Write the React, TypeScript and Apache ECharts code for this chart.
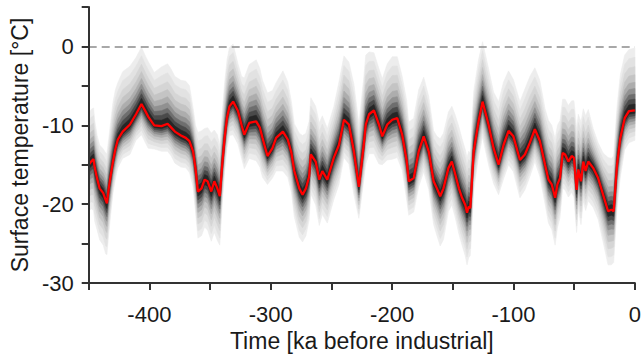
import React, { useEffect, useRef } from "react";
import * as echarts from "echarts";

// Time (ka before industrial) of each read point of the median reconstruction
const times = [
  -450, -448, -446, -445, -443, -441, -438, -436, -435, -433.5,
  -432, -430, -428, -426, -422, -416, -411, -406.5, -403, -401,
  -396, -390, -385, -382, -379, -374, -370, -367, -364, -362,
  -360, -357, -354.5, -352, -349, -346.5, -344, -342, -340, -338,
  -336, -334, -331, -327, -324, -321.8, -317.7, -312, -309, -306.8,
  -302.7, -298.6, -295.6, -290, -286, -283, -280.6, -276.5, -273.8, -271,
  -268.4, -267, -263, -260, -257.5, -253.4, -248, -243.8, -239.7, -235.6,
  -231.5, -227.4, -223.4, -221.7, -219, -215, -210.9, -208.1, -204, -199.9,
  -195.8, -191.7, -188, -186.3, -182.2, -178.1, -174, -169.9, -165.8, -163.1,
  -160.4, -157.7, -153.6, -150.8, -148, -145, -142.4, -139.7, -138.3, -136.9,
  -135.6, -132.8, -128.8, -125.5, -120.6, -116.4, -112.3, -108.2, -104.1, -100.1,
  -94.7, -90.6, -86.5, -82.4, -78.3, -74, -71.2, -68.5, -65.7, -63.8,
  -61.7, -59.5, -57.5, -54.8, -52.1, -50.2, -48, -46.6, -44.4, -42.5,
  -40.6, -38.4, -34.4, -30.3, -26.2, -22.1, -19.4, -17.5, -14.7, -12,
  -8.4, -4.9, 0,
];

// Median surface temperature (°C), red line
const medianTemp = [
  -15.0, -14.6, -14.3, -15.4, -16.8, -18.0, -18.6, -19.5, -19.9, -18.0,
  -16.5, -14.6, -13.0, -11.8, -10.8, -9.9, -8.6, -7.3, -8.3, -8.9,
  -10.0, -10.1, -9.8, -10.3, -10.8, -11.3, -11.6, -12.0, -13.3, -15.5,
  -18.4, -18.0, -16.9, -17.1, -18.4, -17.1, -18.0, -19.0, -15.0, -11.6,
  -9.0, -7.6, -7.0, -8.2, -10.0, -11.2, -9.7, -9.5, -10.3, -11.6,
  -13.9, -12.9, -11.6, -10.8, -11.8, -13.5, -15.8, -18.0, -18.8, -18.0,
  -16.5, -13.7, -14.6, -16.9, -15.8, -16.9, -14.1, -12.5, -9.3, -9.9,
  -13.3, -17.8, -12.5, -9.9, -8.6, -8.1, -9.9, -11.4, -9.9, -9.3,
  -9.1, -11.2, -14.5, -17.1, -16.7, -13.3, -11.4, -13.3, -17.1, -18.0,
  -19.0, -18.0, -15.4, -14.6, -16.2, -18.0, -19.2, -20.1, -21.1, -20.3,
  -20.5, -13.3, -9.5, -7.0, -9.9, -12.9, -15.0, -12.5, -10.7, -11.4,
  -14.4, -13.7, -12.2, -10.5, -12.0, -15.0, -16.9, -17.5, -19.2, -17.5,
  -16.7, -13.5, -13.7, -14.6, -13.9, -14.1, -18.2, -15.6, -17.1, -14.6,
  -15.8, -14.6, -15.4, -16.7, -18.8, -20.9, -20.7, -20.9, -15.0, -11.6,
  -9.1, -8.2, -8.1,
];

// Distance (°C) from the median up to the outer (lightest) edge of the grey envelope
const upperSpread = [
  6.4, 6.6, 6.5, 6.0, 5.5, 5.5, 5.6, 6.0, 6.3, 6.3,
  6.8, 7.5, 7.5, 7.2, 7.6, 7.4, 7.2, 7.2, 7.0, 7.0,
  6.7, 7.5, 7.6, 7.4, 7.0, 7.0, 7.2, 7.0, 5.5, 5.5,
  7.5, 7.3, 6.5, 6.8, 7.4, 6.5, 6.8, 6.5, 6.5, 7.0,
  7.3, 7.5, 7.3, 6.0, 6.2, 7.2, 7.4, 7.8, 7.5, 7.3,
  8.0, 7.3, 7.0, 7.7, 7.3, 6.5, 6.0, 7.0, 7.5, 7.0,
  7.0, 7.2, 7.0, 7.2, 7.0, 6.5, 6.5, 8.0, 8.1, 7.9,
  8.5, 8.0, 8.5, 8.8, 7.9, 7.3, 7.1, 7.3, 7.7, 8.0,
  7.8, 7.4, 7.6, 7.5, 7.6, 7.8, 7.5, 7.0, 6.4, 6.6,
  7.3, 7.0, 7.1, 7.0, 7.5, 7.8, 7.5, 7.0, 7.0, 7.0,
  7.0, 7.6, 7.8, 7.6, 7.1, 7.1, 8.0, 8.0, 7.6, 7.2,
  7.4, 8.3, 8.4, 7.8, 7.7, 7.1, 7.5, 7.5, 7.5, 7.5,
  7.3, 6.8, 7.0, 7.1, 7.0, 7.2, 7.8, 7.0, 7.5, 6.7,
  7.0, 6.6, 5.0, 4.5, 5.3, 6.8, 6.5, 7.0, 7.4, 8.0,
  8.0, 7.8, 7.9,
];

// Distance (°C) from the median down to the outer (lightest) edge of the grey envelope
const lowerSpread = [
  5.9, 6.0, 6.5, 6.8, 6.5, 6.5, 6.6, 6.8, 6.5, 5.8,
  5.0, 4.0, 3.8, 3.6, 3.4, 3.8, 3.3, 3.9, 4.0, 4.0,
  3.0, 3.2, 3.5, 3.6, 4.0, 4.0, 3.8, 4.0, 4.5, 5.5,
  5.9, 6.0, 6.0, 6.2, 6.3, 6.5, 6.6, 6.2, 5.0, 4.2,
  3.8, 3.7, 4.2, 4.2, 4.2, 4.3, 4.5, 5.0, 5.0, 5.0,
  3.6, 3.8, 4.2, 5.0, 4.8, 5.0, 5.8, 6.2, 6.0, 6.0,
  5.5, 5.0, 5.5, 5.8, 5.5, 5.5, 5.3, 5.0, 4.8, 5.0,
  5.5, 4.0, 4.5, 5.0, 5.0, 5.5, 5.0, 3.6, 4.5, 5.0,
  5.0, 4.5, 5.0, 4.3, 4.3, 4.5, 4.5, 4.8, 5.5, 6.0,
  6.3, 6.5, 5.5, 5.5, 5.5, 5.8, 6.0, 6.5, 6.6, 6.5,
  6.0, 5.0, 4.5, 4.5, 5.1, 4.5, 3.8, 4.3, 4.3, 4.5,
  4.8, 4.5, 4.3, 4.1, 4.5, 5.0, 5.5, 5.7, 6.0, 5.5,
  5.0, 4.5, 4.5, 4.5, 4.6, 5.0, 5.4, 5.0, 5.5, 5.0,
  5.0, 5.0, 5.0, 5.2, 6.0, 6.8, 7.0, 6.5, 5.5, 5.0,
  4.0, 4.0, 3.8,
];

// Tick labels
const xTickLabels = [-400, -300, -200, -100, 0];
const yTickLabels = [-30, -20, -10, 0];

// Nested quantile shading: share of the outer spread and its grey
const shadeLevels: [number, string][] = [
  [1.0, "#ededed"],
  [0.85, "#e2e2e2"],
  [0.7, "#d5d5d5"],
  [0.57, "#c4c4c4"],
  [0.45, "#adadad"],
  [0.35, "#919191"],
  [0.26, "#6e6e6e"],
  [0.18, "#4a4a4a"],
  [0.1, "#262626"],
];

const FONT = '"Liberation Sans", Arial, Helvetica, sans-serif';

export default function App() {
  const ref = useRef<HTMLDivElement>(null);
  useEffect(() => {
    if (!ref.current) return;
    const chart = echarts.init(ref.current, null, { renderer: "svg" });

    const bandSeries = shadeLevels.map(([f, color]) => ({
      type: "custom",
      silent: true,
      z: 2,
      clip: true,
      data: [[times[0], medianTemp[0]]],
      renderItem: (_params: any, api: any) => {
        const top = times.map((t, k) => api.coord([t, medianTemp[k] + f * upperSpread[k]]));
        const bottom = times
          .map((t, k) => api.coord([t, medianTemp[k] - f * lowerSpread[k]]))
          .reverse();
        return {
          type: "polygon",
          shape: { points: top.concat(bottom) },
          style: { fill: color, stroke: color, lineWidth: 0.6 },
        };
      },
    }));

    const axisCommon = {
      z: 10,
      axisLine: { show: true, onZero: false, lineStyle: { color: "#333", width: 2 } },
      axisTick: { show: true, inside: false, length: 7, lineStyle: { color: "#333", width: 2 } },
      splitLine: { show: false },
      nameTextStyle: { fontFamily: FONT, fontSize: 23, color: "#1a1a1a" },
    };

    chart.setOption({
      animation: false,
      grid: { left: 88, right: 6, top: 7, bottom: 75, containLabel: false },
      xAxis: {
        ...axisCommon,
        type: "value",
        min: -450,
        max: 0,
        interval: 50,
        name: "Time [ka before industrial]",
        nameLocation: "middle",
        nameGap: 46,
        axisLabel: {
          margin: 20,
          fontFamily: FONT,
          fontSize: 22,
          color: "#1a1a1a",
          showMinLabel: true,
          showMaxLabel: true,
          formatter: (v: number) => (xTickLabels.includes(v) ? String(v) : ""),
        },
      },
      yAxis: {
        ...axisCommon,
        type: "value",
        min: -30,
        max: 5,
        interval: 5,
        name: "Surface temperature [°C]",
        nameLocation: "middle",
        nameGap: 55,
        axisLabel: {
          margin: 15,
          fontFamily: FONT,
          fontSize: 22,
          color: "#1a1a1a",
          showMinLabel: true,
          showMaxLabel: true,
          formatter: (v: number) => (yTickLabels.includes(v) ? String(v) : ""),
        },
      },
      series: [
        ...bandSeries,
        {
          type: "line",
          z: 5,
          data: times.map((t, i) => [t, medianTemp[i]]),
          showSymbol: false,
          symbol: "none",
          silent: true,
          lineStyle: { color: "#ff0000", width: 2.3 },
          markLine: {
            silent: true,
            symbol: ["none", "none"],
            label: { show: false },
            lineStyle: { color: "#8c8c8c", type: [8, 5], width: 1.5 },
            data: [{ yAxis: 0 }],
          },
        },
      ],
    });
    return () => chart.dispose();
  }, []);
  return <div ref={ref} style={{ width: 644, height: 358, position: "absolute", left: 0, top: 0 }} />;
}
